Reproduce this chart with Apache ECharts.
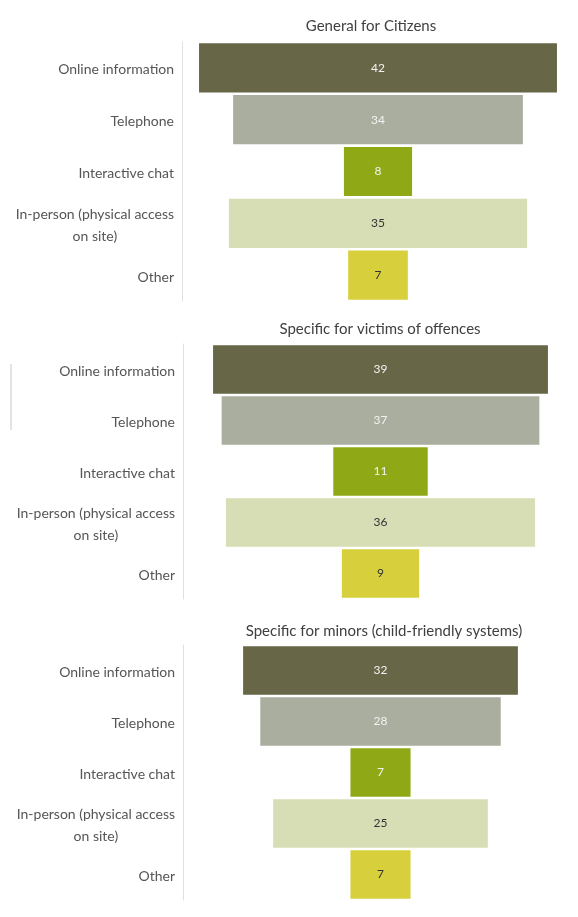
<!DOCTYPE html>
<html>
<head>
<meta charset="utf-8">
<script src="https://cdn.jsdelivr.net/npm/echarts@6/dist/echarts.min.js"></script>
<style>
  html, body { margin: 0; padding: 0; background: #fff; }
  #chart { width: 578px; height: 917px; }
</style>
</head>
<body>
<div id="chart"></div>
<script>
// data
const categories = ['Online information', 'Telephone', 'Interactive chat', 'In-person (physical access\non site)', 'Other'];
const panelTitles = ['General for Citizens', 'Specific for victims of offences', 'Specific for minors (child-friendly systems)'];
const citizensValues = [42, 34, 8, 35, 7];
const victimsValues = [39, 37, 11, 36, 9];
const minorsValues = [32, 28, 7, 25, 7];
const axisMax = 46;

// styles
const barColors = ['#676747', '#a9ae9e', '#8fa916', '#d7deb5', '#d7d03c'];
const labelColors = ['#f2f2f2', '#f2f2f2', '#f2f2f2', '#333333', '#333333'];
const panels = [
	{values: citizensValues, grid: {left: 182, width: 392, top: 42, height: 259}, titleX: 366, titleY: 14},
	{values: victimsValues, grid: {left: 183, width: 400, top: 344, height: 255}, titleX: 375, titleY: 317},
	{values: minorsValues, grid: {left: 183, width: 400, top: 645, height: 255}, titleX: 379, titleY: 619}
];

let chart = echarts.init(document.getElementById('chart'));

let grids = [], xAxes = [], yAxes = [], series = [], titles = [];
panels.forEach((p, i) => {
	grids.push(p.grid);
	titles.push({
		text: panelTitles[i],
		left: p.titleX,
		top: p.titleY,
		textAlign: 'center',
		textStyle: {fontFamily: 'Lato', fontSize: 15, fontWeight: 'normal', color: '#404040'}
	});
	xAxes.push({type: 'value', gridIndex: i, min: 0, max: axisMax, show: false});
	yAxes.push({
		type: 'category', gridIndex: i, inverse: true, data: categories,
		axisLine: {show: true, lineStyle: {color: '#e0e0e0', width: 1}},
		axisTick: {show: false},
		axisLabel: {
			margin: 8, fontFamily: 'Lato', fontSize: 14, color: '#555',
			padding: [4, 0, 0, 0],
			formatter: function(v){
				return v.split('\n').map(s => '{c|' + s + '}').join('\n');
			},
			rich: {c: {align: 'center', fontFamily: 'Lato', fontSize: 14, color: '#555', lineHeight: 22}}
		}
	});
	//空白占位
	series.push({
		type: 'bar', xAxisIndex: i, yAxisIndex: i, stack: 'p' + i, silent: true,
		barCategoryGap: '5%',
		itemStyle: {color: 'transparent'},
		data: p.values.map(v => (axisMax - v) / 2)
	});
	series.push({
		type: 'bar', xAxisIndex: i, yAxisIndex: i, stack: 'p' + i,
		barCategoryGap: '5%',
		data: p.values.map((v, k) => ({
			value: v,
			itemStyle: {color: barColors[k]},
			label: {color: labelColors[k]}
		})),
		label: {show: true, position: 'inside', fontFamily: 'Lato', fontSize: 12}
	});
});

chart.setOption({
	animation: false,
	title: titles,
	grid: grids,
	xAxis: xAxes,
	yAxis: yAxes,
	series: series,
	graphic: [{
		type: 'line', shape: {x1: 11, y1: 364, x2: 11, y2: 430},
		style: {stroke: '#c8c8c8', lineWidth: 1}
	}]
});
</script>
</body>
</html>
